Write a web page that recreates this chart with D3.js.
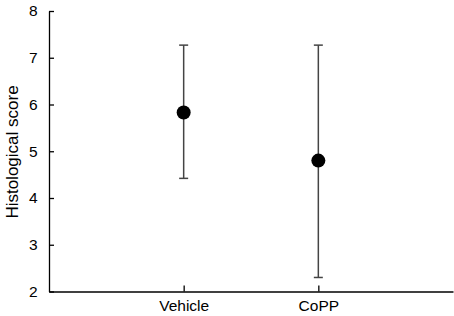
<!DOCTYPE html>
<html><head><meta charset="utf-8">
<script src="https://cdn.jsdelivr.net/npm/d3@7"></script>
<style>body{margin:0;background:#fff}svg{display:block}text{font-family:"Liberation Sans",Arial,sans-serif}</style>
</head><body><svg id="c" width="454" height="316"></svg>
<script>
const categories = ["Vehicle", "CoPP"];
const means = [5.83, 4.8];
const upper = [7.27, 7.27];
const lower = [4.42, 2.30];
const yTicks = [2, 3, 4, 5, 6, 7, 8];

const svg = d3.select("#c");
const x = d3.scaleLinear().domain([0, 3]).range([49, 453]);
const y = d3.scaleLinear().domain([2, 8]).range([291.5, 11]);

const yAxis = d3.axisLeft(y).tickValues(yTicks).tickFormat(d3.format("d")).tickSizeInner(-5).tickSizeOuter(0).tickPadding(11.5);
const gy = svg.append("g").attr("transform", "translate(49,0)").call(yAxis);
gy.selectAll("text").attr("font-size", 15.5).attr("fill", "#000").attr("font-family", "Liberation Sans, Arial, sans-serif");
gy.selectAll("line,path").attr("stroke", "#000").attr("stroke-width", 1.3);

const xAxis = d3.axisBottom(x).tickValues([1, 2]).tickFormat((d, i) => categories[i]).tickSizeInner(-6).tickSizeOuter(0).tickPadding(8.5);
const gx = svg.append("g").attr("transform", "translate(0,291.5)").call(xAxis);
gx.selectAll("text").attr("font-size", 15.5).attr("fill", "#000").attr("font-family", "Liberation Sans, Arial, sans-serif");
gx.selectAll("line,path").attr("stroke", "#000").attr("stroke-width", 1.3);

svg.append("text").attr("transform", "translate(18,152) rotate(-90)").attr("text-anchor", "middle")
  .attr("font-size", 17).attr("fill", "#000").text("Histological score");

const g = svg.append("g");
categories.forEach((c, i) => {
  const cx = x(i + 1);
  g.append("line").attr("x1", cx).attr("x2", cx).attr("y1", y(upper[i])).attr("y2", y(lower[i])).attr("stroke", "#444").attr("stroke-width", 1.5);
  [upper[i], lower[i]].forEach(v => {
    g.append("line").attr("x1", cx - 4.5).attr("x2", cx + 4.5).attr("y1", y(v)).attr("y2", y(v)).attr("stroke", "#444").attr("stroke-width", 1.5);
  });
  g.append("circle").attr("cx", cx).attr("cy", y(means[i])).attr("r", 7).attr("fill", "#000");
});
</script></body></html>
